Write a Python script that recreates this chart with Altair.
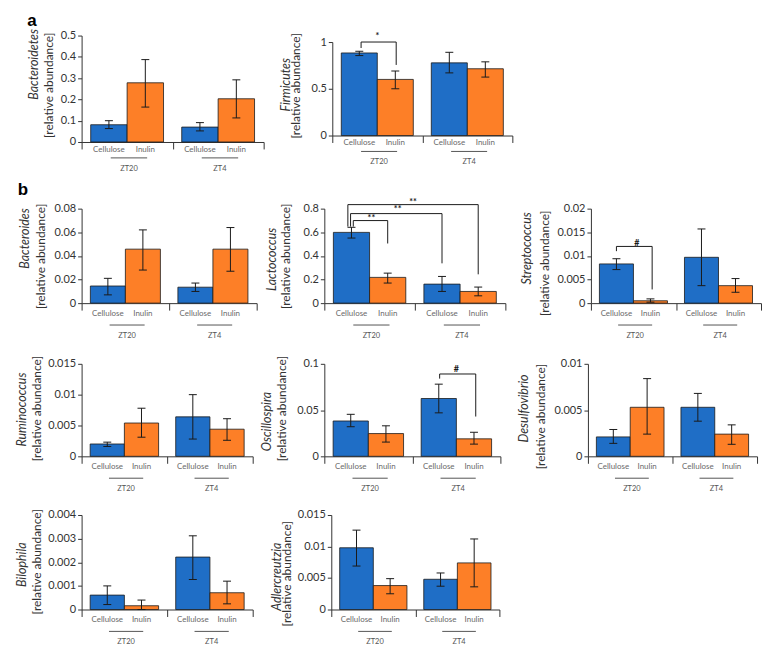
import pandas as pd
import altair as alt

groups = ["ZT20", "ZT4"]
diets = ["Cellulose", "Inulin"]
blue = "#1f6ec6"
orange = "#fd7f27"

genera = ["Bacteroidetes", "Firmicutes", "Bacteroides", "Lactococcus", "Streptococcus",
          "Ruminococcus", "Oscillospira", "Desulfovibrio", "Bilophila", "Adlercreutzia"]
axis_max = [0.5, 1, 0.08, 0.8, 0.02, 0.015, 0.1, 0.01, 0.004, 0.015]
axis_ticks = [
    [0, 0.1, 0.2, 0.3, 0.4, 0.5],
    [0, 0.5, 1],
    [0, 0.02, 0.04, 0.06, 0.08],
    [0, 0.2, 0.4, 0.6, 0.8],
    [0, 0.005, 0.01, 0.015, 0.02],
    [0, 0.005, 0.01, 0.015],
    [0, 0.05, 0.1],
    [0, 0.005, 0.01],
    [0, 0.001, 0.002, 0.003, 0.004],
    [0, 0.005, 0.01, 0.015],
]

# order: ZT20 Cellulose, ZT20 Inulin, ZT4 Cellulose, ZT4 Inulin
means = {
    "Bacteroidetes": [0.081, 0.278, 0.070, 0.203],
    "Firmicutes": [0.883, 0.600, 0.777, 0.714],
    "Bacteroides": [0.0145, 0.0457, 0.0135, 0.0457],
    "Lactococcus": [0.599, 0.218, 0.161, 0.099],
    "Streptococcus": [0.0083, 0.0005, 0.0097, 0.0037],
    "Ruminococcus": [0.0020, 0.0054, 0.0064, 0.0044],
    "Oscillospira": [0.0382, 0.0246, 0.0625, 0.0189],
    "Desulfovibrio": [0.0021, 0.0053, 0.0053, 0.0024],
    "Bilophila": [0.00061, 0.00016, 0.00222, 0.00071],
    "Adlercreutzia": [0.0098, 0.0038, 0.0048, 0.0074],
}
err_low = {
    "Bacteroidetes": [0.063, 0.164, 0.052, 0.113],
    "Firmicutes": [0.855, 0.500, 0.670, 0.625],
    "Bacteroides": [0.0070, 0.0280, 0.0099, 0.0270],
    "Lactococcus": [0.551, 0.170, 0.099, 0.062],
    "Streptococcus": [0.0071, 0.0002, 0.0037, 0.0023],
    "Ruminococcus": [0.0016, 0.0031, 0.0028, 0.0026],
    "Oscillospira": [0.0320, 0.0154, 0.0470, 0.0132],
    "Desulfovibrio": [0.0014, 0.0024, 0.0038, 0.0013],
    "Bilophila": [0.00021, 0.0, 0.00127, 0.00024],
    "Adlercreutzia": [0.0069, 0.0025, 0.0037, 0.0036],
}
err_high = {
    "Bacteroidetes": [0.100, 0.387, 0.091, 0.292],
    "Firmicutes": [0.901, 0.690, 0.890, 0.788],
    "Bacteroides": [0.0210, 0.0620, 0.0170, 0.0640],
    "Lactococcus": [0.642, 0.254, 0.226, 0.136],
    "Streptococcus": [0.0094, 0.0009, 0.0157, 0.0052],
    "Ruminococcus": [0.0023, 0.0078, 0.0100, 0.0061],
    "Oscillospira": [0.0454, 0.0330, 0.0780, 0.0260],
    "Desulfovibrio": [0.0029, 0.0084, 0.0068, 0.0034],
    "Bilophila": [0.0010, 0.0004, 0.00312, 0.0012],
    "Adlercreutzia": [0.0126, 0.0049, 0.0058, 0.0112],
}

# significance brackets: left x, right x, level, left foot, right foot, label, label x, label y
brackets = {
    "Firmicutes": [(0.32, 0.71, 1.0, 0.936, 0.755, "*", 0.50, 1.064)],
    "Lactococcus": [
        (0.32, 0.70, 0.699, 0.648, 0.505, "**", 0.52, 0.724),
        (0.29, 1.30, 0.758, 0.648, 0.337, "**", 0.81, 0.800),
        (0.26, 1.70, 0.834, 0.648, 0.244, "**", 0.98, 0.859),
    ],
    "Streptococcus": [(0.30, 0.72, 0.012, 0.011, 0.0029, "#", 0.54, 0.0128)],
    "Oscillospira": [(1.31, 1.72, 0.089, 0.084, 0.043, "#", 1.50, 0.0946)],
}

# panel sizes and y-title offsets (italic line, plain line) in pixels from the plot corner
geom = {
    "Bacteroidetes": dict(w=183, h=107, it=(-48, 29), nm=(-33, 50), lab=(8, 16, 27)),
    "Firmicutes": dict(w=181, h=94, it=(-47, 43), nm=(-36, 44), lab=(8, 16, 27)),
    "Bacteroides": dict(w=176, h=95, it=(-57, 30), nm=(-41, 48), lab=(11, 22, 33)),
    "Lactococcus": dict(w=182, h=95, it=(-53, 51), nm=(-39, 48), lab=(11, 22, 33)),
    "Streptococcus": dict(w=171, h=95, it=(-64, 40), nm=(-46, 55), lab=(11, 22, 33)),
    "Ruminococcus": dict(w=172, h=93, it=(-60, 46), nm=(-45, 45), lab=(11, 22, 33)),
    "Oscillospira": dict(w=177, h=93, it=(-58, 58), nm=(-43, 45), lab=(11, 22, 33)),
    "Desulfovibrio": dict(w=170, h=93, it=(-64, 45), nm=(-47, 53), lab=(11, 22, 33)),
    "Bilophila": dict(w=172, h=95, it=(-60, 50), nm=(-45, 47), lab=(11, 22, 33)),
    "Adlercreutzia": dict(w=169, h=95, it=(-55, 62), nm=(-45, 59), lab=(11, 22, 33)),
}

FONT = "Lato"
INK = "#333333"
LINE = "#1a1a1a"


def text_at(txt, x, y, **kw):
    return (
        alt.Chart(pd.DataFrame({"t": [txt]}))
        .mark_text(**kw)
        .encode(text="t:N", x=alt.value(x), y=alt.value(y))
    )


def panel(name, letter=None, letter_pos=(0, 0)):
    g = geom[name]
    w, h = g["w"], g["h"]
    k = genera.index(name)
    cap = 4.0 / (w / 2)

    rows = []
    for i in range(4):
        gi, di = i // 2, i % 2
        x0 = gi + 0.1 + 0.4 * di
        rows.append({
            "group": groups[gi], "diet": diets[di],
            "x0": x0, "x1": x0 + 0.4, "xc": x0 + 0.2,
            "cl": x0 + 0.2 - cap, "cr": x0 + 0.2 + cap,
            "mean": means[name][i], "lo": err_low[name][i], "hi": err_high[name][i],
        })
    df = pd.DataFrame(rows)
    gdf = pd.DataFrame({
        "group": groups,
        "gx0": [0.32, 1.32], "gx1": [0.72, 1.72], "gc": [0.52, 1.52],
    })

    # same scale and axis for every layer, so the merged axes keep these settings
    xs = alt.Scale(domain=[0, 2], nice=False, zero=False)
    ys = alt.Scale(domain=[0, axis_max[k]], nice=False)
    xaxis = alt.Axis(values=[0, 1, 2], labels=False, grid=False, tickSize=7,
                     domainColor=INK, tickColor=INK)
    yaxis = alt.Axis(values=axis_ticks[k], format=".3~r", grid=False, tickSize=4,
                     labelFont=FONT, labelFontSize=11, labelColor=INK,
                     labelOverlap=False, labelPadding=2, domainColor=INK, tickColor=INK)

    def X(f):
        return alt.X(f, scale=xs, axis=xaxis, title="")

    def Y(f):
        return alt.Y(f, scale=ys, axis=yaxis, title="")

    bars = alt.Chart(df).mark_rect(stroke=LINE, strokeWidth=0.8).encode(
        x=X("x0:Q"), x2="x1:Q", y=Y("mean:Q"), y2=alt.datum(0),
        color=alt.Color("diet:N", scale=alt.Scale(domain=diets, range=[blue, orange]),
                        legend=None),
    )
    whisker = alt.Chart(df).mark_rule(color=LINE, strokeWidth=1).encode(
        x=X("xc:Q"), y=Y("lo:Q"), y2="hi:Q")
    cap_hi = alt.Chart(df).mark_rule(color=LINE, strokeWidth=1).encode(
        x=X("cl:Q"), x2="cr:Q", y=Y("hi:Q"))
    cap_lo = alt.Chart(df).mark_rule(color=LINE, strokeWidth=1).encode(
        x=X("cl:Q"), x2="cr:Q", y=Y("lo:Q"))

    off = g["lab"]
    diet_lab = alt.Chart(df).mark_text(font=FONT, fontSize=8, color="#6a6a6a",
                                       baseline="middle").encode(
        x=X("xc:Q"), y=alt.value(h + off[0]), text="diet:N")
    underline = alt.Chart(gdf).mark_rule(color="#555555", strokeWidth=1).encode(
        x=X("gx0:Q"), x2="gx1:Q", y=alt.value(h + off[1]))
    group_lab = alt.Chart(gdf).mark_text(font=FONT, fontSize=7.5, color="#555555",
                                         baseline="middle").encode(
        x=X("gc:Q"), y=alt.value(h + off[2]), text="group:N")

    t1 = text_at(name, g["it"][0], g["it"][1], angle=270, font=FONT, fontSize=12.5,
                 fontStyle="italic", color=INK, baseline="middle", align="center")
    t2 = text_at("[relative abundance]", g["nm"][0], g["nm"][1], angle=270, font=FONT,
                 fontSize=12, color=INK, baseline="middle", align="center")

    layers = [bars, whisker, cap_hi, cap_lo, diet_lab, underline, group_lab, t1, t2]

    if name in brackets:
        bdf = pd.DataFrame(brackets[name],
                           columns=["lx", "rx", "lev", "lb", "rb", "lab", "labx", "laby"])
        layers += [
            alt.Chart(bdf).mark_rule(color=LINE, strokeWidth=1).encode(
                x=X("lx:Q"), x2="rx:Q", y=Y("lev:Q")),
            alt.Chart(bdf).mark_rule(color=LINE, strokeWidth=1).encode(
                x=X("lx:Q"), y=Y("lb:Q"), y2="lev:Q"),
            alt.Chart(bdf).mark_rule(color=LINE, strokeWidth=1).encode(
                x=X("rx:Q"), y=Y("rb:Q"), y2="lev:Q"),
            alt.Chart(bdf).mark_text(font=FONT, fontSize=9, fontWeight="bold",
                                     color=LINE, baseline="middle").encode(
                x=X("labx:Q"), y=Y("laby:Q"), text="lab:N"),
        ]

    if letter:
        layers.append(text_at(letter, letter_pos[0], letter_pos[1], font="Liberation Sans",
                              fontSize=17, fontWeight="bold", color="#000000",
                              baseline="middle", align="center"))

    return alt.layer(*layers).properties(width=w, height=h)


def spacer(w):
    return (
        alt.Chart(pd.DataFrame({"s": [0]}))
        .mark_point(opacity=0, size=1)
        .encode(x=alt.value(0), y=alt.value(0))
        .properties(width=w, height=1)
    )


# rows: panels side by side, gaps measured between plot areas
row_a = alt.hconcat(
    panel("Bacteroidetes", "a", (-50, -15)), spacer(69), panel("Firmicutes"),
    spacing=0, bounds="flush", center=True,
)
row_b1 = alt.hconcat(
    panel("Bacteroides", "b", (-59, -19)), spacer(68),
    panel("Lactococcus"), spacer(86), panel("Streptococcus"),
    spacing=0, bounds="flush",
)
row_b2 = alt.hconcat(
    panel("Ruminococcus"), spacer(72), panel("Oscillospira"), spacer(88),
    panel("Desulfovibrio"),
    spacing=0, bounds="flush",
)
row_b3 = alt.hconcat(
    panel("Bilophila"), spacer(79), panel("Adlercreutzia"),
    spacing=0, bounds="flush",
)

chart = (
    alt.vconcat(row_a, alt.vconcat(row_b1, row_b2, row_b3, spacing=15), spacing=8)
    .properties(padding={"left": 8, "top": 2, "right": 2, "bottom": 2})
    .configure_view(strokeWidth=0)
)

chart.save("out.html", embed_options={"renderer": "svg", "actions": False})
